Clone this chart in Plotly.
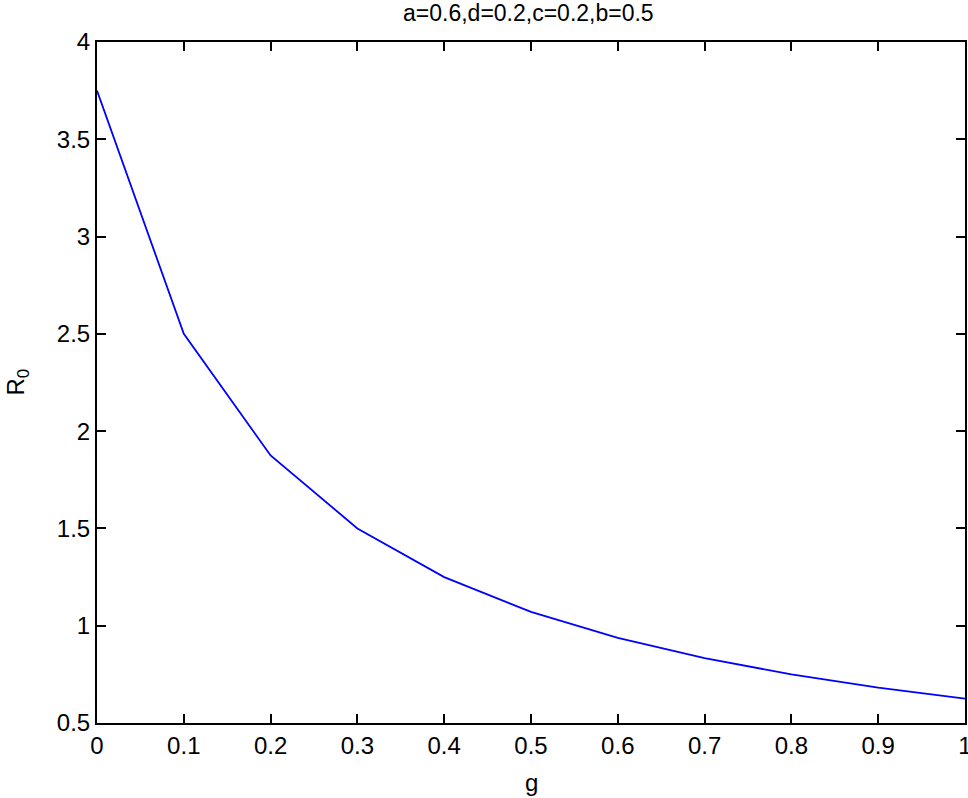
import plotly.graph_objects as go

g_values = [0.0, 0.1, 0.2, 0.3, 0.4, 0.5, 0.6, 0.7, 0.8, 0.9, 1.0]
r0_values = [3.75, 2.5, 1.875, 1.5, 1.25, 1.071, 0.9375, 0.833, 0.75, 0.682, 0.625]
title_text = "a=0.6,d=0.2,c=0.2,b=0.5"
x_title = "g"
y_title = "R<sub>0</sub>"
x_ticks = [0, 0.1, 0.2, 0.3, 0.4, 0.5, 0.6, 0.7, 0.8, 0.9, 1]
x_tick_labels = ["0", "0.1", "0.2", "0.3", "0.4", "0.5", "0.6", "0.7", "0.8", "0.9", "1"]
y_ticks = [0.5, 1, 1.5, 2, 2.5, 3, 3.5, 4]
y_tick_labels = ["0.5", "1", "1.5", "2", "2.5", "3", "3.5", "4"]

fig = go.Figure()
fig.add_trace(go.Scatter(x=g_values, y=r0_values, mode="lines",
                         line=dict(color="#0000ff", width=1.8), showlegend=False))

font_family = "Liberation Sans, Arial, sans-serif"
fig.update_layout(
    width=968, height=798,
    margin=dict(l=97, r=3, t=42, b=75, autoexpand=False),
    paper_bgcolor="white", plot_bgcolor="white",
    font=dict(family=font_family, color="black", size=24),
)
axis_common = dict(showgrid=False, zeroline=False, showline=True, linecolor="black",
                   linewidth=2, mirror="ticks", ticks="inside", ticklen=9,
                   tickcolor="black", tickwidth=2, tickfont=dict(size=24),
                   automargin=False, ticklabeloverflow="allow")
fig.update_xaxes(range=[0, 1], tickvals=x_ticks, ticktext=x_tick_labels, **axis_common)
fig.update_yaxes(range=[0.5, 4], tickvals=y_ticks, ticktext=y_tick_labels, **axis_common)

fig.add_annotation(text=title_text, xref="paper", yref="paper", x=0.497, y=1,
                   xanchor="center", yanchor="middle", yshift=29,
                   showarrow=False, font=dict(size=23, color="black"))
fig.add_annotation(text=x_title, xref="paper", yref="paper", x=0.5, y=0,
                   xanchor="center", yanchor="middle", yshift=-59,
                   showarrow=False, font=dict(size=24, color="black"))
fig.add_annotation(text=y_title, xref="paper", yref="paper", x=0, y=0.5,
                   xanchor="center", yanchor="middle", xshift=-80, textangle=-90,
                   showarrow=False, font=dict(size=24, color="black"))

fig.write_html("out.html", config={"displayModeBar": False},
               post_script="document.body.style.margin='0px';")
